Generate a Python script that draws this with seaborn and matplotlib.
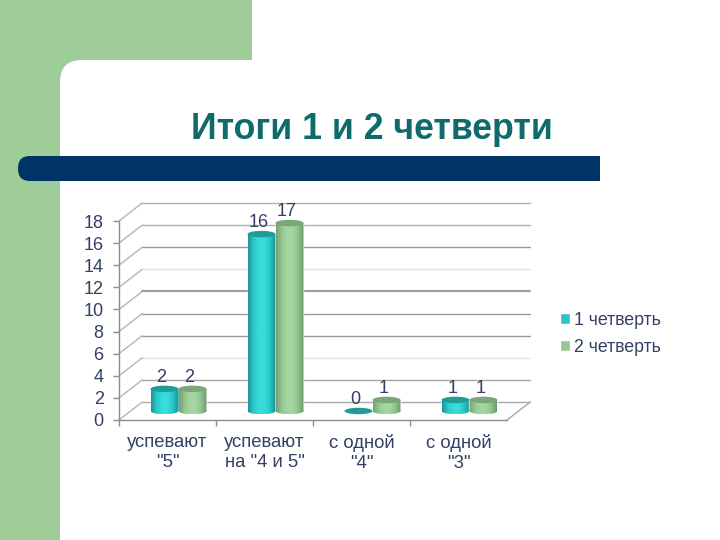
import matplotlib
matplotlib.use("Agg")
import matplotlib.pyplot as plt
import matplotlib.transforms as mtrans
from matplotlib.colors import LinearSegmentedColormap
from matplotlib.patches import Ellipse, FancyBboxPatch, Rectangle
from matplotlib.path import Path
import numpy as np
import pandas as pd
import seaborn as sns

categories = ['успевают\n"5"', 'успевают\nна "4 и 5"', 'с одной\n"4"', 'с одной\n"3"']
quarter_1 = [2, 16, 0, 1]
quarter_2 = [2, 17, 1, 1]
series_names = ["1 четверть", "2 четверть"]
y_ticks = list(range(0, 19, 2))
title = "Итоги 1 и 2 четверти"

TEXT = "#333f66"
GREEN = "#9ecd9a"
NAVY = "#003366"
series_colors = ["#2fc4c4", "#96c893"]
cap_colors = ["#1f9c99", "#7aa67a"]
ramps = [["#1c9494", "#2cc9c9", "#38dcdc", "#38dcdc", "#2ac4c4", "#1c8f8f"],
         ["#769f76", "#94c690", "#a3d6a0", "#a3d6a0", "#90c28c", "#6f9670"]]

W, H, DPI = 720, 540, 100
sns.set_theme(style="white")
plt.rcParams["font.family"] = ["Liberation Sans", "DejaVu Sans"]
fig = plt.figure(figsize=(W / DPI, H / DPI), dpi=DPI, facecolor="white")

# slide background
bg = fig.add_axes([0, 0, 1, 1], zorder=0)
bg.set_xlim(0, W)
bg.set_ylim(H, 0)
bg.axis("off")
bg.add_patch(Rectangle((0, 0), 252, 90, fc=GREEN, ec="none"))
bg.add_patch(Rectangle((0, 0), 60, H, fc=GREEN, ec="none"))
bg.add_patch(FancyBboxPatch((60, 60), 800, 600, boxstyle="round,pad=0,rounding_size=22",
                            fc="white", ec="none", mutation_aspect=1))
bg.add_patch(FancyBboxPatch((18, 156), 60, 25, boxstyle="round,pad=0,rounding_size=12",
                            fc=NAVY, ec="none"))
bg.add_patch(Rectangle((40, 156), 560, 25, fc=NAVY, ec="none"))
bg.text(371.5, 129.5, title, ha="center", va="center", fontsize=25.7,
        fontweight="bold", color="#0f6b6b")

# chart
ax = fig.add_axes([119 / W, 1 - 420 / H, (507 - 119) / W, (420 - 221) / H], zorder=1)
ax.patch.set_alpha(0)
df = pd.DataFrame({
    "category": categories * 2,
    "value": quarter_1 + quarter_2,
    "quarter": [series_names[0]] * 4 + [series_names[1]] * 4,
})
sns.barplot(data=df, x="category", y="value", hue="quarter", order=categories,
            hue_order=series_names, palette=series_colors, width=0.577, gap=0,
            saturation=1, ax=ax, zorder=5)
ax.set_autoscale_on(False)
ax.set_xlim(-0.5, 3.5)
ax.set_ylim(0, 18)

# back wall, side wall and floor of the 3D frame
depth_x, depth_y = 0.24, 1.63
wall_colors = {0: "#a8a8a8", 2: "#a8a8a8", 4: "#e2e2e2", 6: "#9a9a9a", 8: "#9a9a9a",
               10: "#a0a0a0", 12: "#e2e2e2", 14: "#9a9a9a", 16: "#b0b0b0", 18: "#b0b0b0"}
for v in y_ticks:
    lw = 1.6 if v == 10 else 1.0
    ax.plot([-0.5 + depth_x, 3.5 + depth_x], [v + depth_y] * 2, color=wall_colors[v],
            lw=lw, clip_on=False, zorder=1)
    ax.plot([-0.5, -0.5 + depth_x], [v, v + depth_y], color="#b5b5b5", lw=1.0,
            clip_on=False, zorder=1)
ax.plot([3.5, 3.5 + depth_x], [0, depth_y], color="#a8a8a8", lw=1.0, clip_on=False, zorder=1)

# cylinders: the seaborn bars, shifted onto the floor plane and shaded
plane = ax.transData + mtrans.ScaledTranslation(11 / DPI, 9 / DPI, fig.dpi_scale_trans)
cap_h = 6.5 / (199 / 18)
grad = np.linspace(0, 1, 64).reshape(1, -1)
z = 5
for s, container in enumerate(ax.containers):
    cmap = LinearSegmentedColormap.from_list(f"cyl{s}", ramps[s])
    for bar in container:
        x0, w, v = bar.get_x(), bar.get_width(), bar.get_height()
        cx = x0 + w / 2
        bar.set_transform(plane)
        bar.set_clip_on(False)
        bar.set_zorder(z)
        if v > 0:
            im = ax.imshow(grad, extent=[x0, x0 + w, -cap_h / 2, v], aspect="auto", cmap=cmap,
                           vmin=0, vmax=1, transform=plane, zorder=z + 0.1,
                           interpolation="bilinear")
            rect = mtrans.Affine2D().scale(w, v).translate(x0, 0).transform_path(Path.unit_rectangle())
            foot = mtrans.Affine2D().scale(w / 2, cap_h / 2).translate(cx, 0).transform_path(Path.unit_circle())
            im.set_clip_path(Path.make_compound_path(rect, foot), plane)
        ax.add_patch(Ellipse((cx, v), w, cap_h, fc=cap_colors[s], ec="none",
                             transform=plane, clip_on=False, zorder=z + 0.2))
        ax.annotate(str(int(v)), (cx, v), xycoords=plane, xytext=(-2.2, 8.3),
                    textcoords="offset points", ha="center", va="center",
                    fontsize=13, color=TEXT, zorder=30)
        z += 1
ax.set_xlim(-0.5, 3.5)
ax.set_ylim(0, 18)

# axes
sns.despine(ax=ax)
for side in ("left", "bottom"):
    ax.spines[side].set_color("#8c8c8c")
    ax.spines[side].set_linewidth(1.0)
ax.set_xlabel("")
ax.set_ylabel("")
ax.set_yticks(y_ticks)
ax.tick_params(axis="y", length=4, width=1, color="#8c8c8c", labelsize=13,
               labelcolor=TEXT, pad=7, left=True)
ax.tick_params(axis="x", which="major", length=0, labelsize=13.3, labelcolor=TEXT, pad=10, bottom=True)
for lab in ax.get_xticklabels():
    lab.set_linespacing(1.22)
ax.set_xticks([-0.5, 0.5, 1.5, 2.5], minor=True)
ax.tick_params(axis="x", which="minor", length=4, width=1, color="#8c8c8c", bottom=True)

# legend
leg = ax.get_legend()
leg.set_title(None)
sns.move_legend(ax, "center left", bbox_to_anchor=(544 / W, 1 - 334 / H),
                bbox_transform=fig.transFigure, frameon=False, fontsize=12.8,
                handlelength=0.55, handleheight=0.55, handletextpad=0.25,
                labelspacing=0.55, labelcolor=TEXT, title=None)

fig.savefig("out.png", dpi=DPI)
